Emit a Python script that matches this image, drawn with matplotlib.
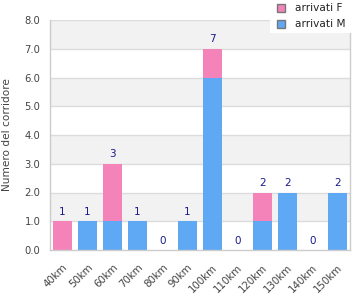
import matplotlib
matplotlib.use("Agg")
import matplotlib.pyplot as plt
from matplotlib.patches import Rectangle
import numpy as np

categories = ["40km", "50km", "60km", "70km", "80km", "90km", "100km",
              "110km", "120km", "130km", "140km", "150km"]
arrivati_M = [0, 1, 1, 1, 0, 1, 6, 0, 1, 2, 0, 2]
arrivati_F = [1, 0, 2, 0, 0, 0, 1, 0, 1, 0, 0, 0]
y_ticks = [0, 1, 2, 3, 4, 5, 6, 7, 8]
legend_labels = ["arrivati F", "arrivati M"]

col_F = "#f383b9"
col_M = "#5fa8f4"
label_col = "#1a1a8c"
text_col = "#444444"

W, H = 360, 300
fig = plt.figure(figsize=(3.6, 3.0), dpi=100)
ax = fig.add_axes([50/W, 50/H, 300/W, 230/H])

x = np.arange(len(categories))
ax.set_xlim(-0.5, len(categories) - 0.5)
ax.set_ylim(0, 8)

for lo in range(1, 8, 2):
    ax.axhspan(lo, lo + 1, color="#f2f2f2", zorder=0, lw=0)
for t in y_ticks[1:]:
    ax.axhline(t, color="#dcdcdc", lw=1, zorder=1)

ax.bar(x, arrivati_M, width=0.76, color=col_M, zorder=2)
ax.bar(x, arrivati_F, width=0.76, bottom=arrivati_M, color=col_F, zorder=2)

totals = [m + f for m, f in zip(arrivati_M, arrivati_F)]
for xi, tot in zip(x, totals):
    ax.text(xi, tot + 0.15, str(tot), ha="center", va="bottom",
            fontsize=7.5, color=label_col, zorder=3)

ax.set_yticks(y_ticks)
ax.set_yticklabels([f"{v:.1f}" for v in y_ticks], fontsize=7.2, color=text_col)
ax.set_xticks(x)
ax.set_xticklabels(categories, rotation=45, ha="right", va="top",
                   rotation_mode="anchor", fontsize=7.4, color=text_col)
ax.tick_params(axis="both", length=0)
ax.tick_params(axis="y", pad=7)
ax.tick_params(axis="x", pad=9)

ax.set_ylabel("Numero del corridore", fontsize=7.6, color=text_col, labelpad=9)

for s in ["left", "bottom", "right"]:
    ax.spines[s].set_color("#cccccc")
    ax.spines[s].set_linewidth(1)
ax.spines["top"].set_visible(False)

# legend box (figure pixel coordinates)
fig.patches.append(Rectangle((270/W, 1 - 33/H), 90/W, 33/H, transform=fig.transFigure,
                             facecolor="white", edgecolor="none", zorder=5))
for i, (lab, col) in enumerate(zip(legend_labels, [col_F, col_M])):
    yc = 8 + 16 * i
    fig.patches.append(Rectangle((277/W, 1 - (yc + 4)/H), 8/W, 8/H,
                                 transform=fig.transFigure, facecolor=col,
                                 edgecolor="#777777", lw=1, zorder=6))
    fig.text(295/W, 1 - yc/H, lab, ha="left", va="center", fontsize=7.6,
             color="#222222", zorder=7)

fig.savefig("out.png", dpi=100)
